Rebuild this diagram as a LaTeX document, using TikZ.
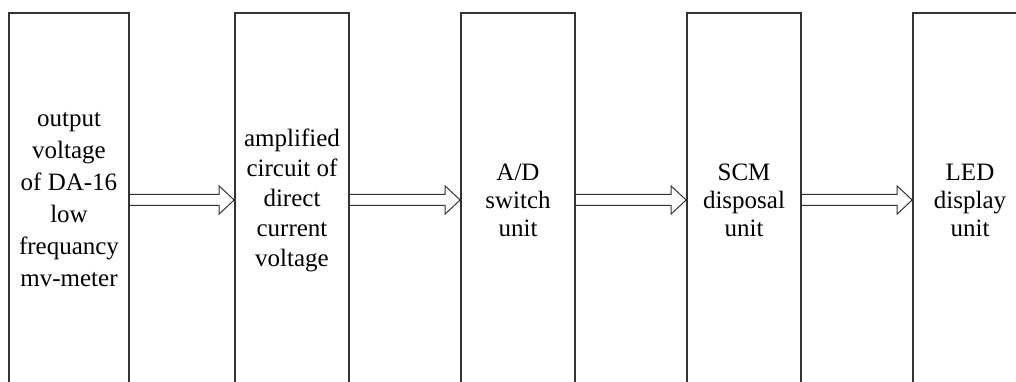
\documentclass[tikz,border=0pt]{standalone}
\usepackage{fontspec}
\setmainfont{Liberation Serif}
\usepackage{xcolor}
\usepackage{tikz}
\usetikzlibrary{calc, positioning}
\definecolor{boxline}{HTML}{333333}

% hollow arrow from one box to the next
\newcommand{\hollowarrow}[2]{%
  \draw[arrowline] let \p1=(#1.east), \p2=(#2.west) in
    (\x1,\y1+5.5pt) -- (\x2-15pt,\y1+5.5pt) -- (\x2-15pt,\y1+14pt) -- (\x2,\y1)
    -- (\x2-15pt,\y1-14pt) -- (\x2-15pt,\y1-5.5pt) -- (\x1,\y1-5.5pt);}

\begin{document}
\begin{tikzpicture}[
    x=1pt, y=1pt,
    box/.style={rectangle, draw=boxline, line width=1.7pt, fill=none, minimum width=#1, minimum height=374pt, align=center, inner sep=0pt, font=\fontsize{25}{28}\selectfont},
    box/.default=114pt,
    tall/.style={font=\fontsize{25}{#1}\selectfont},
    arrowline/.style={draw=boxline, line width=1pt, line join=miter},
]
\fill[white] (0,0) rectangle (1016,382);
\useasboundingbox (0,0) rectangle (1016,382);

\node[box=120pt, tall=32] (meter) at (69,182) {output\\voltage\\of DA-16\\low\\frequancy\\mv-meter};
\node[box, tall=30] (amp) at (292,182) {amplified\\circuit of\\direct\\current\\voltage};
\node[box] (adc) at (518,182) {A/D\\switch\\unit};
\node[box] (scm) at (744,182) {SCM\\disposal\\unit};
\node[box] (led) at (970,182) {LED\\display\\unit};

\hollowarrow{meter}{amp}
\hollowarrow{amp}{adc}
\hollowarrow{adc}{scm}
\hollowarrow{scm}{led}
\end{tikzpicture}
\end{document}
